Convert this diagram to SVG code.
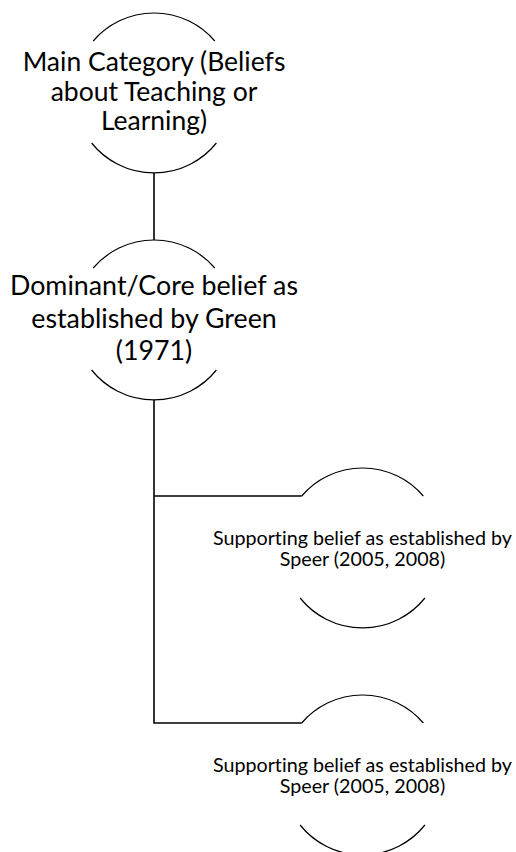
<svg xmlns="http://www.w3.org/2000/svg" width="516" height="852" viewBox="0 0 516 852">
  <style>
    .arc { fill: none; stroke: #000; stroke-width: 1.2; }
    .wire { fill: none; stroke: #000; stroke-width: 1.6; }
    .t { font-family: Lato, "Liberation Sans", sans-serif; text-anchor: middle; fill: #000; font-variant-ligatures: none; font-feature-settings: "liga" 0; }
    .big { font-size: 26.5px; }
    .mid { font-size: 26.8px; }
    .small { font-size: 19.7px; }
  </style>
  <rect width="516" height="852" fill="#fff"/>

  <!-- connectors -->
  <g id="connectors">
    <path class="wire" d="M154,173 V240"/>
    <path class="wire" d="M154,400 V723 H301.7"/>
    <path class="wire" d="M154,496 H301.7"/>
  </g>

  <!-- circle r=80; sides hidden behind the label band -->
  <g id="node-main">
    <path class="arc" d="M93.2,41 A80,80 0 0 1 214.8,41"/>
    <path class="arc" d="M91.6,143 A80,80 0 0 0 216.4,143"/>
    <text class="t big" x="154" y="71">Main Category (Beliefs</text>
    <text class="t big" x="154" y="101">about Teaching or</text>
    <text class="t big" x="154" y="130">Learning)</text>
  </g>

  <g id="node-core">
    <path class="arc" d="M93.2,268 A80,80 0 0 1 214.8,268"/>
    <path class="arc" d="M91.6,370 A80,80 0 0 0 216.4,370"/>
    <text class="t mid" x="154" y="295">Dominant/Core belief as</text>
    <text class="t mid" x="154" y="328">established by Green</text>
    <text class="t mid" x="154" y="360">(1971)</text>
  </g>

  <g id="node-support-1">
    <path class="arc" d="M301.7,496 A80,80 0 0 1 423.3,496"/>
    <path class="arc" d="M300.1,598 A80,80 0 0 0 424.9,598"/>
    <text class="t small" x="362.5" y="545">Supporting belief as established by</text>
    <text class="t small" x="362.5" y="566">Speer (2005, 2008)</text>
  </g>

  <g id="node-support-2">
    <path class="arc" d="M301.7,723 A80,80 0 0 1 423.3,723"/>
    <path class="arc" d="M300.1,825 A80,80 0 0 0 424.9,825"/>
    <text class="t small" x="362.5" y="772">Supporting belief as established by</text>
    <text class="t small" x="362.5" y="793">Speer (2005, 2008)</text>
  </g>
</svg>
